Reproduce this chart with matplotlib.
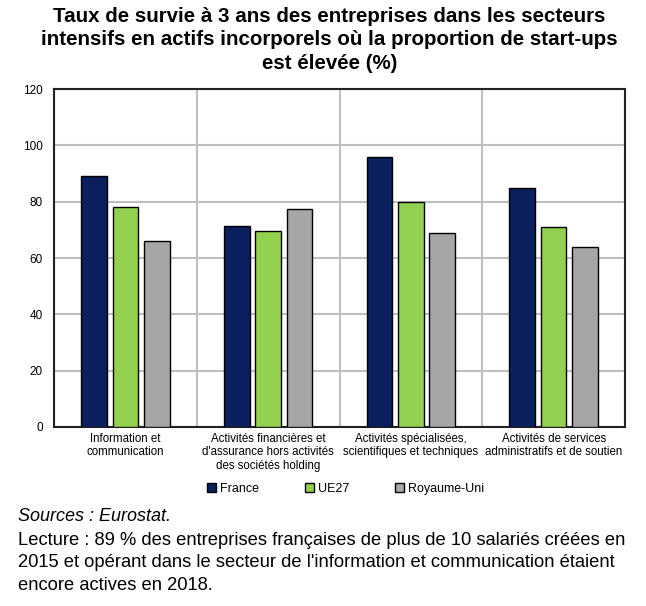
import numpy as np
import matplotlib.pyplot as plt

# =========================
# DATA
# =========================
categories = [
    "Information et\ncommunication",
    "Activités financières et\nd'assurance hors activités\ndes sociétés holding",
    "Activités spécialisées,\nscientifiques et techniques",
    "Activités de services\nadministratifs et de soutien",
]
series_names = ["France", "UE27", "Royaume-Uni"]
france = [89, 71.5, 96, 85]
ue27 = [78, 69.5, 80, 71]
royaume_uni = [66, 77.5, 69, 64]
y_ticks = [0, 20, 40, 60, 80, 100, 120]

colors = ["#0b1f5e", "#92d050", "#a6a6a6"]

plt.rcParams['font.family'] = ['Liberation Sans', 'DejaVu Sans']

# =========================
# PLOT
# =========================
fig = plt.figure(figsize=(6.46, 6.06), dpi=100)
ax = fig.add_axes([0.0836, 0.2954, 0.8839, 0.5577])

x = np.arange(len(categories))
width = 0.18
step = 0.22
for i, (vals, name) in enumerate(zip([france, ue27, royaume_uni], series_names)):
    ax.bar(x + (i - 1) * step, vals, width, color=colors[i],
           edgecolor='black', linewidth=1.0, label=name, zorder=3)

ax.set_xlim(-0.5, len(categories) - 0.5)
ax.set_ylim(0, 120)
ax.set_yticks(y_ticks)
ax.set_yticklabels([str(t) for t in y_ticks], fontsize=8.5)
ax.set_xticks(x)
ax.set_xticklabels(categories, fontsize=8.3, linespacing=1.2)
ax.set_xticks(np.arange(len(categories) + 1) - 0.5, minor=True)
ax.tick_params(axis='x', which='both', length=0, pad=4)
ax.tick_params(axis='y', length=0, pad=8)

ax.grid(axis='y', color='#bfbfbf', linewidth=1.5, zorder=0)
ax.grid(axis='x', which='minor', color='#bfbfbf', linewidth=1.5, zorder=0)
for s in ax.spines.values():
    s.set_linewidth(1.5)
    s.set_color('#222222')

fig.text(0.51, 0.988,
         "Taux de survie à 3 ans des entreprises dans les secteurs\n"
         "intensifs en actifs incorporels où la proportion de start-ups\n"
         "est élevée (%)",
         ha='center', va='top', fontsize=14.8, fontweight='bold', linespacing=1.28)

fig.legend(loc='center', bbox_to_anchor=(0.535, 0.193), ncol=3, frameon=False,
           fontsize=9, handlelength=0.7, handleheight=0.7, handletextpad=0.3,
           columnspacing=3.7)

fig.text(0.028, 0.147, "Sources : Eurostat.", fontsize=13, style='italic', va='center')
fig.text(0.028, 0.071,
         "Lecture : 89 % des entreprises françaises de plus de 10 salariés créées en\n"
         "2015 et opérant dans le secteur de l'information et communication étaient\n"
         "encore actives en 2018.",
         fontsize=13.2, va='center', linespacing=1.39)

fig.savefig("out.png", dpi=100)
